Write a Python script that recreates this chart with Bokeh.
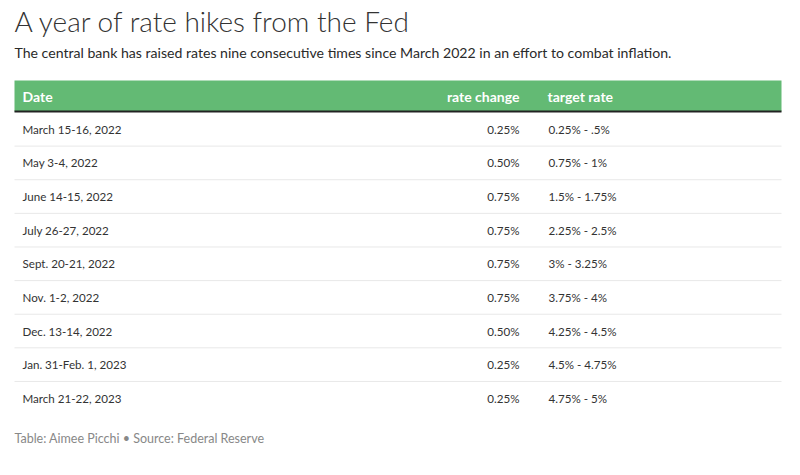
from bokeh.plotting import figure
from bokeh.models import Range1d, ColumnDataSource
from bokeh.core.properties import value
from bokeh.embed import file_html
from bokeh.resources import INLINE

title = "A year of rate hikes from the Fed"
subtitle = "The central bank has raised rates nine consecutive times since March 2022 in an effort to combat inflation."
footer = "Table: Aimee Picchi \u2022 Source: Federal Reserve"
headers = ["Date", "rate change", "target rate"]
dates = ["March 15-16, 2022", "May 3-4, 2022", "June 14-15, 2022", "July 26-27, 2022",
         "Sept. 20-21, 2022", "Nov. 1-2, 2022", "Dec. 13-14, 2022", "Jan. 31-Feb. 1, 2023",
         "March 21-22, 2023"]
rate_change = ["0.25%", "0.50%", "0.75%", "0.75%", "0.75%", "0.75%", "0.50%", "0.25%", "0.25%"]
target_rate = ["0.25% - .5%", "0.75% - 1%", "1.5% - 1.75%", "2.25% - 2.5%", "3% - 3.25%",
               "3.75% - 4%", "4.25% - 4.5%", "4.5% - 4.75%", "4.75% - 5%"]

W, H = 784, 459
FONT = "Lato"
# layout (page pixel coordinates)
left, right = 14, 781
head_top, head_bot = 80, 111
row0, row_h = 112, 33.62

p = figure(width=W, height=H, output_backend="svg", toolbar_location=None,
           x_range=Range1d(0, W), y_range=Range1d(H, 0),
           min_border=0, outline_line_color=None)
p.axis.visible = False
p.grid.visible = False
p.background_fill_color = "white"
p.border_fill_color = "white"

# title / subtitle / footer
p.text(x=[14], y=[20], text=[title], text_font=value("Lato Light, Lato"), text_font_size="28px",
       text_font_style="normal", text_color="#333333", text_baseline="middle")
p.text(x=[14], y=[52], text=[subtitle], text_font=value(FONT), text_font_size="14.1px",
       text_color="#2a2a2a", text_baseline="middle")
p.text(x=[14], y=[438], text=[footer], text_font=value(FONT), text_font_size="12.5px",
       text_color="#888888", text_baseline="middle")

# header band
p.quad(left=[left], right=[right], top=[head_top], bottom=[head_bot],
       fill_color="#63ba74", line_color=None)
p.segment(x0=[left], x1=[right], y0=[head_bot], y1=[head_bot], line_color="#222222", line_width=2)
hy = (head_top + head_bot) / 2
p.text(x=[22], y=[hy], text=[headers[0]], text_font=value(FONT), text_font_size="14px",
       text_font_style="bold", text_color="white", text_baseline="middle")
p.text(x=[519], y=[hy], text=[headers[1]], text_font=value(FONT), text_font_size="14px",
       text_font_style="bold", text_color="white", text_baseline="middle", text_align="right")
p.text(x=[547], y=[hy], text=[headers[2]], text_font=value(FONT), text_font_size="14px",
       text_font_style="bold", text_color="white", text_baseline="middle")

n = len(dates)
ys = [row0 + row_h * (i + 0.5) for i in range(n)]
src = ColumnDataSource(dict(y=ys, d=dates, rc=rate_change, tr=target_rate))
p.text(x=22, y="y", text="d", source=src, text_font=value(FONT), text_font_size="11.6px",
       text_color="#333333", text_baseline="middle")
p.text(x=519, y="y", text="rc", source=src, text_font=value(FONT), text_font_size="11.6px",
       text_color="#333333", text_baseline="middle", text_align="right")
p.text(x=548, y="y", text="tr", source=src, text_font=value(FONT), text_font_size="11.6px",
       text_color="#333333", text_baseline="middle")

divs = [row0 + row_h * (i + 1) for i in range(n - 1)]
p.segment(x0=[left] * len(divs), x1=[right] * len(divs), y0=divs, y1=divs,
          line_color="#e8e8e8", line_width=1)

open("out.html", "w").write(file_html(p, INLINE))
